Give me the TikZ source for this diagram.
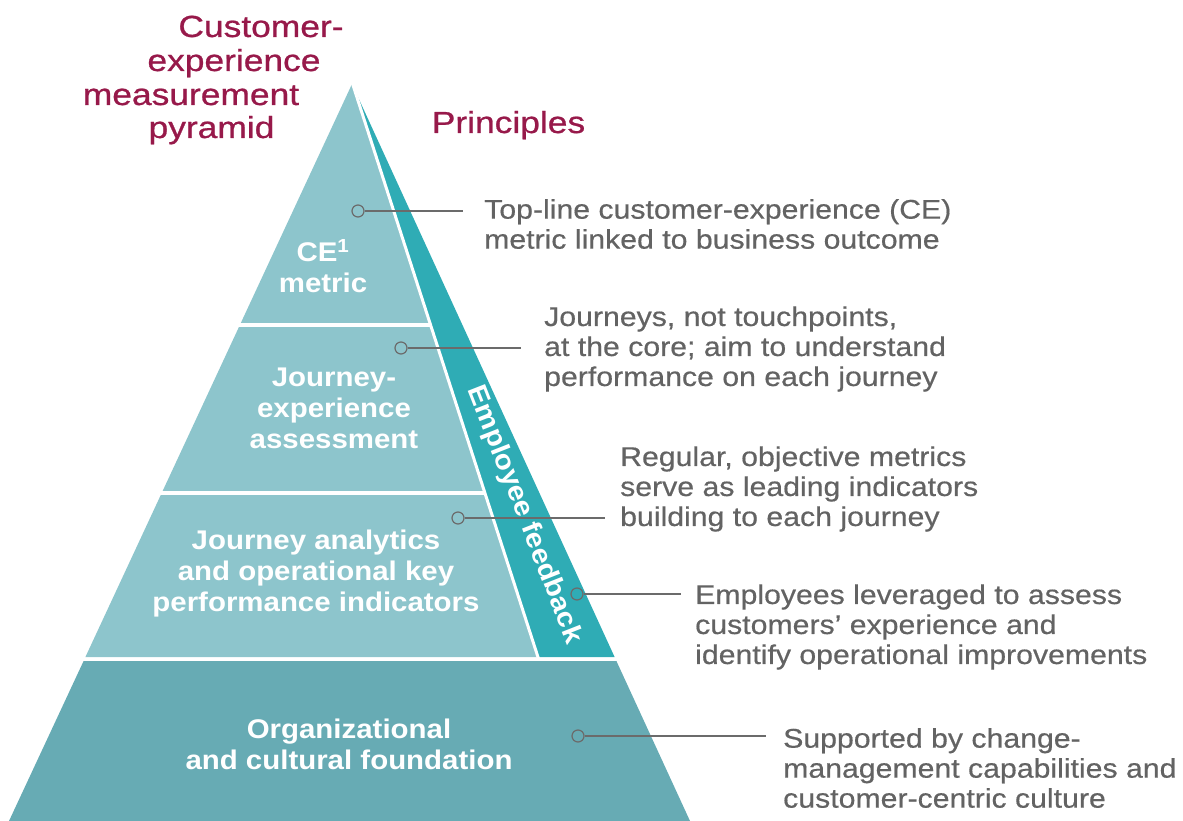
\documentclass[tikz,border=0pt]{standalone}
\usepackage{fontspec}
\setmainfont{Liberation Sans}
\newfontfamily\grayfont[FakeStretch=1.12,FakeBold=0.5]{Liberation Sans}
\newfontfamily\whitefont[FakeStretch=1.09]{Liberation Sans Bold}
\newfontfamily\titlefont[FakeStretch=1.16,FakeBold=0.8]{Liberation Sans}
\definecolor{lightteal}{HTML}{8DC5CC}
\definecolor{striptl}{HTML}{2FACB5}
\definecolor{basetl}{HTML}{67ABB4}
\definecolor{pingray}{HTML}{6B6B6B}
\definecolor{txtgray}{HTML}{636363}
\definecolor{crimson}{HTML}{97194A}
\tikzset{
  pin/.style={circle, draw=pingray, line width=1.2pt, minimum size=12pt, inner sep=0pt},
  lead/.style={draw=pingray, line width=1.2pt},
  desc/.style={anchor=west, align=left, inner sep=0pt, text=txtgray, font=\grayfont\fontsize{27}{30}\selectfont},
  lvl/.style={align=center, inner sep=0pt, text=white, font=\whitefont\fontsize{27}{31}\selectfont},
  ttl/.style={anchor=base, inner sep=0pt, text=crimson, font=\titlefont\fontsize{30.5}{34}\selectfont},
  sep/.style={draw=white, line width=3.5pt}
}
\begin{document}
\begin{tikzpicture}[x=1pt,y=-1pt]
\useasboundingbox (0,0) rectangle (1183,821);
% pyramid
\fill[lightteal] (352,84) -- (85.4,657) -- (537.9,657) -- cycle;
\fill[striptl] (352,84) -- (614.6,657) -- (537.9,657) -- cycle;
\draw[sep, line width=3pt] (352,82) -- (538.6,659);
\fill[basetl] (83.6,661) -- (616.4,661) -- (690,821) -- (9,821) -- cycle;
\draw[sep] (200,325) -- (430,325);
\draw[sep] (120,493) -- (484.6,493);
% titles
\node[ttl] (t1) at (261,37) {Customer-};
\node[ttl] (t2) at (234,71) {experience};
\node[ttl] (t3) at (191,105) {measurement};
\node[ttl] (t4) at (211.5,138) {pyramid};
\node[ttl] (pr) at (508.5,133) {Principles};
% level labels
\node[lvl] (l1) at (323,266) {CE\textsuperscript{1}\\metric};
\node[lvl] (l2) at (334,408) {Journey-\\experience\\assessment};
\node[lvl] (l3) at (316,574) {Journey analytics\\and operational key\\performance indicators};
\node[lvl] (l4) at (349,744) {Organizational\\and cultural foundation};
\node[lvl, rotate=-68.6] (ef) at (524,515) {Employee feedback};
% pins and leaders
\node[pin] (d1) at (358,211) {};
\node[pin] (d2) at (401,348) {};
\node[pin] (d3) at (458,518) {};
\node[pin] (d4) at (577,594) {};
\node[pin] (d5) at (578,736) {};
\coordinate (e1) at (463,211);
\coordinate (e2) at (521,348);
\coordinate (e3) at (605,518);
\coordinate (e4) at (681,594);
\coordinate (e5) at (766,736);
\draw[lead] (d1) -- (e1);
\draw[lead] (d2) -- (e2);
\draw[lead] (d3) -- (e3);
\draw[lead] (d4) -- (e4);
\draw[lead] (d5) -- (e5);
% descriptions
\node[desc] (p1) at (484,224) {Top-line customer-experience (CE)\\metric linked to business outcome};
\node[desc] (p2) at (544,349) {Journeys, not touchpoints,\\at the core; aim to understand\\performance on each journey};
\node[desc] (p3) at (620,489) {Regular, objective metrics\\serve as leading indicators\\building to each journey};
\node[desc] (p4) at (695,627) {Employees leveraged to assess\\customers’ experience and\\identify operational improvements};
\node[desc] (p5) at (783,768) {Supported by change-\\management capabilities and\\customer-centric culture};
\end{tikzpicture}
\end{document}
